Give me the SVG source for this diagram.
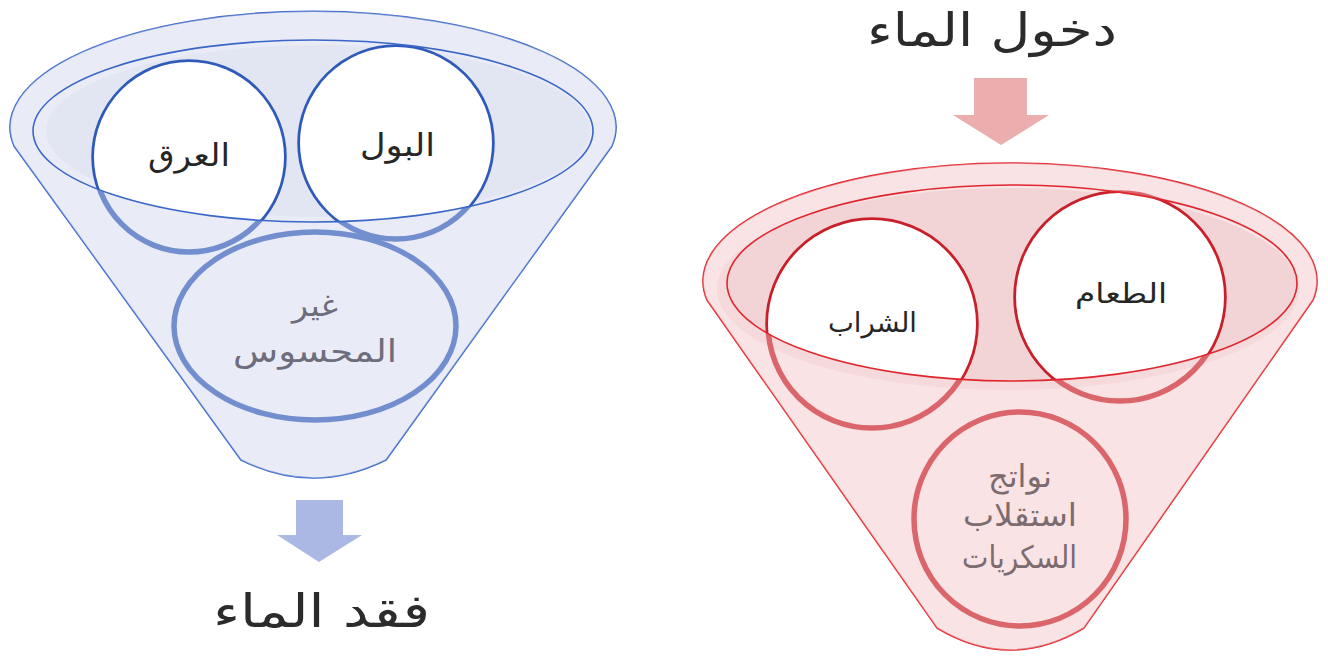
<svg xmlns="http://www.w3.org/2000/svg" width="1328" height="657" viewBox="0 0 1328 657">
<style>
text{font-family:"DejaVu Sans","Noto Sans",sans-serif;text-anchor:middle}
.title{font-size:46px;fill:#2b2b2b}
.lbl{font-size:31px;fill:#262626}
.lblr{font-size:27px;fill:#262626}
.sub{font-size:31px;fill:#6d6d7c}
.subr{font-size:31px;fill:#7c6b6f}
.bthin{fill:none;stroke:#3a66c8;stroke-width:1.6}
.rthin{fill:none;stroke:#e0262e;stroke-width:1.6}
</style>
<defs>
<clipPath id="clipL"><ellipse cx="313" cy="131" rx="280" ry="91"/></clipPath>
<clipPath id="clipR"><ellipse cx="1012" cy="283" rx="285" ry="98"/></clipPath>
</defs>

<g id="funnel-loss">
<path d="M14,146 A303,116 0 1 1 612,146 L386,460 Q313,496 241,460 Z" fill="#e9ecf6" stroke="#3a66c8" stroke-width="1.6"/>
<ellipse cx="318" cy="131" rx="272" ry="86" fill="#e2e6f3"/>
</g>
<g id="node-sweat">
<circle cx="189" cy="157" r="95" fill="none" stroke="#2f5ab9" stroke-width="5.5"/>
<circle cx="189" cy="157" r="95" fill="#fff" stroke="none" clip-path="url(#clipL)"/>
</g>
<g id="node-urine">
<circle cx="396" cy="143" r="96" fill="none" stroke="#2f5ab9" stroke-width="5.5"/>
<circle cx="396" cy="143" r="96" fill="#fff" stroke="none" clip-path="url(#clipL)"/>
</g>
<g id="node-insensible">
<ellipse cx="315" cy="326" rx="141" ry="94" fill="#e9ecf6" stroke="#2f5ab9" stroke-width="5.5"/>
</g>
<path id="overlayL" d="M14,146 A303,116 0 1 1 612,146 L386,460 Q313,496 241,460 Z M33,131 a280,91 0 1 0 560,0 a280,91 0 1 0 -560,0 Z" fill="#e9ecf6" fill-opacity="0.36" fill-rule="evenodd"/>
<g id="funnel-loss-lines">
<ellipse cx="313" cy="131" rx="280" ry="91" class="bthin"/>
</g>
<g id="labels-loss">
<text x="189" y="166" class="lbl" textLength="82" lengthAdjust="spacingAndGlyphs">العرق</text>
<text x="397.5" y="156" class="lbl" textLength="75" lengthAdjust="spacingAndGlyphs">البول</text>
<text x="315" y="316" class="sub" textLength="46" lengthAdjust="spacingAndGlyphs">غير</text>
<text x="315" y="362" class="sub" textLength="164" lengthAdjust="spacingAndGlyphs">المحسوس</text>
</g>

<g id="funnel-intake">
<path d="M707,300 A307,118 0 1 1 1313,300 L1084,628 Q1010,672 937,628 Z" fill="#f9e3e4" stroke="#e0262e" stroke-width="1.6"/>
<ellipse cx="1008" cy="289" rx="291" ry="101" fill="#f3d4d6"/>
</g>
<g id="node-drink">
<circle cx="872" cy="324" r="104" fill="none" stroke="#c8202a" stroke-width="5.5"/>
<circle cx="872" cy="324" r="104" fill="#fff" stroke="none" clip-path="url(#clipR)"/>
</g>
<g id="node-food">
<circle cx="1120" cy="297" r="104" fill="none" stroke="#c8202a" stroke-width="5.5"/>
<circle cx="1120" cy="297" r="104" fill="#fff" stroke="none" clip-path="url(#clipR)"/>
</g>
<g id="node-metabolism">
<ellipse cx="1020" cy="519" rx="106" ry="107" fill="#f9e3e4" stroke="#c8202a" stroke-width="5.5"/>
</g>
<path id="overlayR" d="M707,300 A307,118 0 1 1 1313,300 L1084,628 Q1010,672 937,628 Z M727,283 a285,98 0 1 0 570,0 a285,98 0 1 0 -570,0 Z" fill="#f9e3e4" fill-opacity="0.36" fill-rule="evenodd"/>
<g id="funnel-intake-lines">
<ellipse cx="1012" cy="283" rx="285" ry="98" class="rthin"/>
</g>
<g id="labels-intake">
<text x="872.5" y="332" class="lblr" textLength="89" lengthAdjust="spacingAndGlyphs">الشراب</text>
<text x="1121" y="303" class="lblr" textLength="92" lengthAdjust="spacingAndGlyphs">الطعام</text>
<text x="1020" y="487" class="subr" textLength="64" lengthAdjust="spacingAndGlyphs">نواتج</text>
<text x="1020" y="526" class="subr" textLength="114" lengthAdjust="spacingAndGlyphs">استقلاب</text>
<text x="1019.5" y="568" class="subr" textLength="115" lengthAdjust="spacingAndGlyphs">السكريات</text>
</g>

<g id="connectors">
<polygon points="296,500 343,500 343,535 362,535 319,562 277,535 296,535" fill="#abb8e3"/>
<polygon points="974,78 1027,78 1027,115 1049,115 1001,145 953,115 974,115" fill="#ecadae"/>
</g>

<g id="title-loss"><text x="321.5" y="627" class="title" textLength="217" lengthAdjust="spacingAndGlyphs">فقد الماء</text></g>
<g id="title-intake"><text x="992" y="46" class="title" textLength="250" lengthAdjust="spacingAndGlyphs">دخول الماء</text></g>
</svg>
